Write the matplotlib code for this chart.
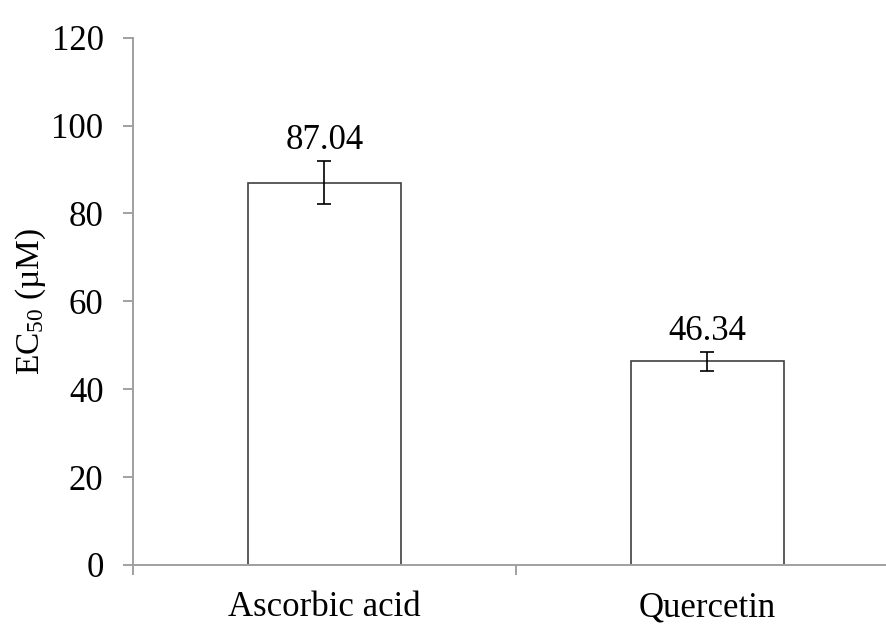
import matplotlib
matplotlib.use('Agg')
import matplotlib.pyplot as plt
import numpy as np

# EC50 values with standard deviations
compounds = ['Ascorbic acid', 'Quercetin']
ec50 = [87.04, 46.34]
ec50_err = [4.95, 2.2]
yticks = [0, 20, 40, 60, 80, 100, 120]

plt.rcParams['font.family'] = ['Liberation Serif', 'DejaVu Serif']
plt.rcParams['mathtext.fontset'] = 'custom'
plt.rcParams['mathtext.rm'] = 'Liberation Serif'
plt.rcParams['mathtext.it'] = 'Liberation Serif:italic'

fs = 25

fig = plt.figure(figsize=(8.86, 6.24), dpi=100)
ax = fig.add_axes([0.1498, 0.0946, 0.8646, 0.845])

x = np.arange(len(compounds))
ax.bar(x, ec50, width=0.4, color='white', edgecolor='#404040', linewidth=1.2, zorder=2)
ax.errorbar(x, ec50, yerr=ec50_err, fmt='none', ecolor='black', elinewidth=1.2,
            capsize=5, capthick=1.2, zorder=3)

# value labels above the error bars
for xi, v, e in zip(x, ec50, ec50_err):
    ax.annotate(f'{v:.2f}', (xi, v + e), xytext=(0, 3), textcoords='offset points',
                ha='center', va='bottom', fontsize=fs)

ax.set_xlim(-0.5, 1.5)
ax.set_ylim(0, 120)
ax.set_yticks(yticks)
ax.set_xticks(x)
ax.set_xticklabels(compounds)
ax.set_xticks([-0.5, 0.5, 1.5], minor=True)

for side in ['top', 'right']:
    ax.spines[side].set_visible(False)
for side in ['left', 'bottom']:
    ax.spines[side].set_color('#a0a0a0')
    ax.spines[side].set_linewidth(1.4)

ax.tick_params(axis='y', which='major', direction='out', length=7, width=1.4,
               color='#a0a0a0', labelsize=fs, pad=14)
ax.tick_params(axis='x', which='major', length=0, labelsize=fs, pad=19)
ax.tick_params(axis='x', which='minor', direction='out', length=7, width=1.4,
               color='#a0a0a0')

ax.set_ylabel('EC$_{50}$ (µM)', fontsize=24)
ax.yaxis.set_label_coords(-0.111, 0.5)

fig.savefig('out.png', dpi=100)
